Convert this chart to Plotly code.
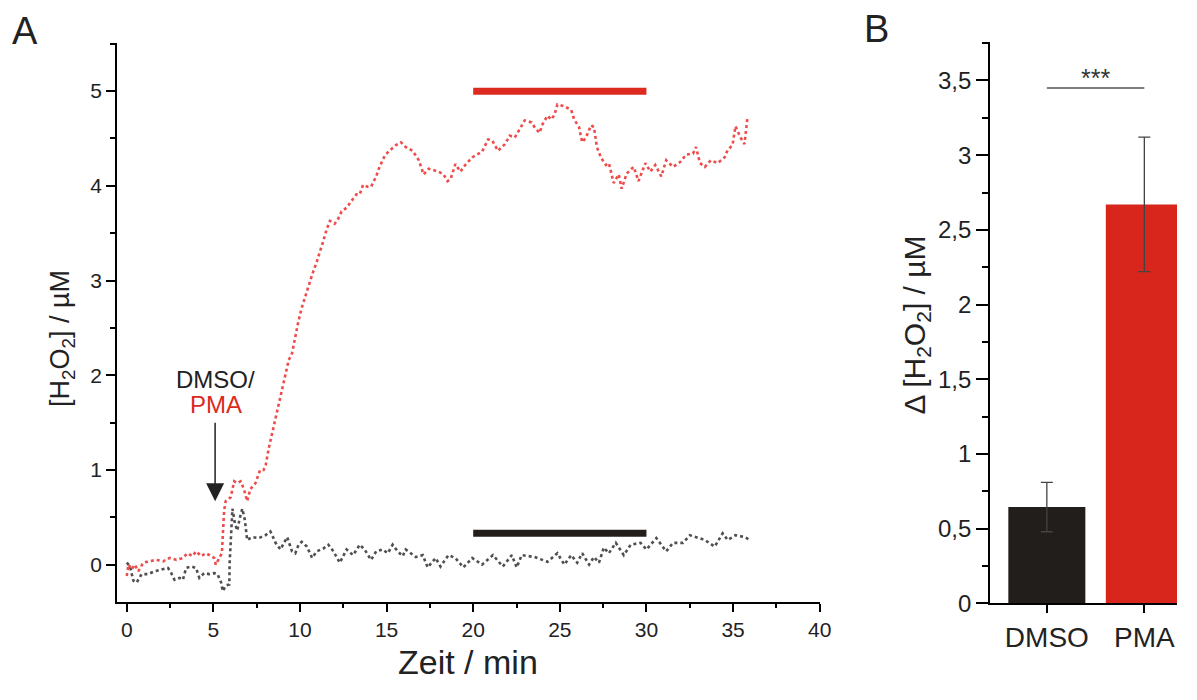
import plotly.graph_objects as go

# The page body keeps its default 8 px margin; the figure is sized so the page fits the
# 1197x700 window exactly, so window pixel (x, y) = figure pixel (x - 8, y - 8).
OFF = 8
W, H = 1197 - 2 * OFF, 700 - 2 * OFF

# ---------------- data ----------------
red_t = [0, 0.1, 0.29, 0.46, 0.67, 0.95, 1.3, 1.7, 2.1, 2.47, 2.86, 3.24, 3.5, 3.8, 4.0, 4.3, 4.57,
         4.86, 5.05, 5.14, 5.33, 5.49, 5.56, 5.62, 5.71, 6.0, 6.2, 6.38, 6.57, 6.76, 6.95, 7.14, 7.43,
         7.7, 7.9, 8.02, 8.2, 8.5, 8.78, 9.07, 9.35, 9.54, 9.73, 9.92, 10.1, 10.4, 10.7, 10.97, 11.16,
         11.35, 11.54, 11.73, 12.0, 12.2, 12.4, 12.7, 12.97, 13.26, 13.45, 13.64, 13.9, 14.1, 14.4,
         14.59, 14.9, 15.16, 15.54, 15.83, 16.1, 16.5, 16.86, 17.14, 17.43, 18.0, 18.29, 18.51, 18.69,
         18.97, 19.26, 19.54, 19.94, 20.51, 20.86, 21.09, 21.43, 21.83, 22.11, 22.4, 22.69, 22.97,
         23.37, 23.54, 23.83, 24.0, 24.29, 24.51, 24.69, 24.86, 25.26, 25.66, 25.83, 26.11, 26.29,
         26.51, 26.8, 26.97, 27.14, 27.37, 27.66, 27.83, 28.11, 28.4, 28.57, 28.86, 29.26, 29.54,
         29.94, 30.23, 30.51, 30.86, 31.14, 31.54, 31.94, 32.29, 32.69, 32.86, 33.09, 33.37, 33.71,
         34.11, 34.51, 34.69, 34.97, 35.14, 35.43, 35.66, 35.83]
red_v = [-0.12, 0.0, -0.05, 0.0, -0.07, 0.02, 0.035, 0.05, 0.035, 0.07, 0.05, 0.07, 0.12, 0.09, 0.14,
         0.09, 0.12, 0.09, 0.07, 0.0, 0.07, 0.12, 0.36, 0.57, 0.67, 0.71, 0.88, 0.86, 0.88, 0.8, 0.67,
         0.8, 0.86, 1.0, 1.0, 1.05, 1.23, 1.47, 1.71, 1.95, 2.16, 2.23, 2.42, 2.58, 2.71, 2.89, 3.06,
         3.2, 3.3, 3.42, 3.54, 3.63, 3.6, 3.65, 3.73, 3.77, 3.84, 3.91, 3.91, 4.01, 3.99, 3.99, 4.1,
         4.2, 4.32, 4.37, 4.43, 4.46, 4.41, 4.37, 4.27, 4.12, 4.18, 4.15, 4.12, 4.05, 4.07, 4.23, 4.15,
         4.22, 4.3, 4.36, 4.49, 4.48, 4.37, 4.44, 4.53, 4.51, 4.6, 4.69, 4.67, 4.62, 4.56, 4.65, 4.74,
         4.7, 4.75, 4.86, 4.84, 4.8, 4.7, 4.62, 4.46, 4.51, 4.64, 4.62, 4.41, 4.3, 4.22, 4.24, 4.03,
         4.12, 3.97, 4.13, 4.2, 4.05, 4.24, 4.15, 4.22, 4.1, 4.27, 4.2, 4.25, 4.33, 4.34, 4.41, 4.24,
         4.2, 4.27, 4.24, 4.3, 4.38, 4.43, 4.63, 4.51, 4.44, 4.72]

gray_t = [0, 0.19, 0.38, 0.57, 0.86, 1.24, 1.62, 2.0, 2.38, 2.57, 2.76, 3.05, 3.24, 3.43, 3.71, 4.0,
          4.19, 4.47, 4.76, 5.05, 5.24, 5.45, 5.54, 5.73, 5.92, 5.94, 6.0, 6.1, 6.25, 6.38, 6.51, 6.67,
          6.82, 6.95, 7.24, 7.62, 8.0, 8.29, 8.47, 8.59, 8.87, 8.97, 9.26, 9.54, 9.73, 9.92, 10.1,
          10.4, 10.7, 10.97, 11.35, 11.64, 11.93, 12.3, 12.69, 13.07, 13.45, 13.73, 14.1, 14.4, 14.78,
          15.07, 15.35, 15.64, 15.93, 16.1, 16.69, 17.09, 17.37, 17.83, 18.11, 18.57, 18.97, 19.43,
          19.94, 20.51, 21.14, 21.71, 22.23, 22.51, 22.8, 23.54, 24.29, 24.86, 25.26, 25.66, 26.0,
          26.29, 26.69, 26.97, 27.26, 27.54, 27.83, 28.23, 28.69, 29.09, 29.66, 30.0, 30.57, 31.14,
          31.54, 32.11, 32.51, 33.37, 33.94, 34.4, 34.69, 35.14, 35.71, 35.94]
gray_v = [0.02, -0.02, -0.17, -0.19, -0.1, -0.1, -0.07, -0.05, -0.035, -0.09, -0.16, -0.14, -0.16,
          -0.035, -0.02, -0.035, -0.14, -0.09, -0.1, -0.09, -0.1, -0.19, -0.28, -0.22, -0.21, 0.02,
          0.29, 0.59, 0.43, 0.36, 0.48, 0.59, 0.47, 0.26, 0.29, 0.28, 0.31, 0.35, 0.28, 0.23, 0.16,
          0.19, 0.29, 0.14, 0.12, 0.21, 0.24, 0.19, 0.07, 0.14, 0.17, 0.21, 0.14, 0.02, 0.16, 0.1,
          0.21, 0.16, 0.05, 0.14, 0.16, 0.12, 0.21, 0.14, 0.09, 0.16, 0.08, 0.1, -0.03, 0.07, -0.02,
          0.1, 0.07, -0.03, 0.07, 0.0, 0.1, -0.02, 0.1, -0.03, 0.1, 0.08, 0.03, 0.12, 0.0, 0.1, 0.02,
          0.12, 0.0, 0.08, 0.02, 0.18, 0.12, 0.23, 0.1, 0.21, 0.23, 0.16, 0.28, 0.14, 0.23, 0.23,
          0.31, 0.26, 0.19, 0.33, 0.26, 0.31, 0.29, 0.26]

period_t = [20, 30]
pma_period_level = 5.0
dmso_period_level = 0.33
injection_t = 5.1
injection_v = 0.67

groups = ["DMSO", "PMA"]
means = [0.645, 2.67]
errors = [0.165, 0.45]
sig_level = 3.45
b_tickvals = [0, 0.5, 1, 1.5, 2, 2.5, 3, 3.5]
b_ticktext = ["0", "0,5", "1", "1,5", "2", "2,5", "3", "3,5"]

# ---------------- styling ----------------
FONT = "Liberation Sans, Arial, sans-serif"
TXT = "#222222"
RED = "#dc2a20"
BLACK = "#221e1c"
RED_TRACE = "rgba(236,55,55,0.9)"
GRAY_TRACE = "rgba(70,70,70,0.95)"


def px(x):
    """window pixel x -> paper coordinate"""
    return (x - OFF) / W


def py(y):
    """window pixel y -> paper coordinate"""
    return 1 - (y - OFF) / H


fig = go.Figure()

fig.add_trace(go.Scatter(x=gray_t, y=gray_v, mode="lines",
                         line=dict(color=GRAY_TRACE, width=2.6, dash="dot"), xaxis="x", yaxis="y"))
fig.add_trace(go.Scatter(x=red_t, y=red_v, mode="lines",
                         line=dict(color=RED_TRACE, width=2.6, dash="dot"), xaxis="x", yaxis="y"))
fig.add_trace(go.Scatter(x=period_t, y=[pma_period_level] * 2, mode="lines",
                         line=dict(color=RED, width=7), xaxis="x", yaxis="y"))
fig.add_trace(go.Scatter(x=period_t, y=[dmso_period_level] * 2, mode="lines",
                         line=dict(color=BLACK, width=7), xaxis="x", yaxis="y"))

fig.add_trace(go.Bar(x=[0, 1], y=means, width=0.79,
                     marker=dict(color=[BLACK, "#d9261c"], line=dict(width=0)),
                     error_y=dict(type="data", array=errors, visible=True,
                                  color="#444444", thickness=1.3, width=6),
                     xaxis="x2", yaxis="y2"))
fig.add_trace(go.Scatter(x=[0, 1], y=[sig_level] * 2, mode="lines",
                         line=dict(color="#555555", width=1.5), xaxis="x2", yaxis="y2"))

axis_common = dict(showline=True, linecolor="black", linewidth=1.6, ticks="outside",
                   tickcolor="black", tickwidth=1.6, showgrid=False, zeroline=False)

# panel B: category centres at 1057.5 px and 1156 px (98.5 px per unit), y axis at 1000 px
b_unit = 98.5
b_left = -(1057.5 - 1000) / b_unit
b_right = (OFF + W - 1057.5) / b_unit

fig.update_layout(
    width=W, height=H,
    margin=dict(l=0, r=0, t=0, b=0),
    paper_bgcolor="white", plot_bgcolor="white",
    showlegend=False,
    font=dict(family=FONT, color=TXT),
    xaxis=dict(domain=[px(118), px(828)], range=[-0.57, 40], anchor="y",
               tickvals=[0, 5, 10, 15, 20, 25, 30, 35, 40], ticklen=8,
               tickfont=dict(family=FONT, size=21, color=TXT),
               minor=dict(ticks="outside", ticklen=4, dtick=2.5, tickcolor="black", tickwidth=1.6),
               **axis_common),
    yaxis=dict(domain=[py(614), py(44)], range=[-0.4, 5.505], anchor="x",
               tickvals=[0, 1, 2, 3, 4, 5], ticklen=9,
               tickfont=dict(family=FONT, size=21, color=TXT),
               minor=dict(ticks="outside", ticklen=5, dtick=0.5, tickcolor="black", tickwidth=1.6),
               **axis_common),
    xaxis2=dict(domain=[px(1000), 1.0], range=[b_left, b_right], anchor="y2",
                tickvals=[0, 1], ticktext=groups, ticklen=8,
                tickfont=dict(family=FONT, size=28, color=TXT),
                **axis_common),
    yaxis2=dict(domain=[py(615), py(43)], range=[0, 3.755], anchor="x2",
                tickvals=b_tickvals, ticktext=b_ticktext, ticklen=12,
                tickfont=dict(family=FONT, size=24, color=TXT),
                minor=dict(ticks="outside", ticklen=6, dtick=0.25, tickcolor="black", tickwidth=1.6),
                **axis_common),
)


def label(x, y, text, size, color=TXT, angle=0):
    return dict(x=px(x), y=py(y), xref="paper", yref="paper", text=text, showarrow=False,
                xanchor="center", yanchor="middle", textangle=angle,
                font=dict(size=size, family=FONT, color=color))


ann = [
    label(25, 31, "A", 38),
    label(885, 29, "B", 38),
    label(473, 675, "Zeit / min", 34),
    label(62, 345, "[H<sub>2</sub>O<sub>2</sub>] / µM", 27, angle=-90),
    label(926, 331, "Δ [H<sub>2</sub>O<sub>2</sub>] / µM", 30, angle=-90),
    label(218, 387, "DMSO/", 24),
    label(218, 412, "PMA", 24, color=RED),
    dict(x=injection_t, y=injection_v, xref="x", yref="y", text="", showarrow=True,
         ax=0, ay=-80, arrowhead=2, arrowsize=2.4, arrowwidth=1.5, arrowcolor="#222222"),
    dict(x=0.5, y=sig_level, xref="x2", yref="y2", text="***", showarrow=False,
         xanchor="center", yanchor="bottom", yshift=-6,
         font=dict(size=25, family=FONT, color="#333333")),
]
fig.update_layout(annotations=ann)

fig.write_html("out.html")
